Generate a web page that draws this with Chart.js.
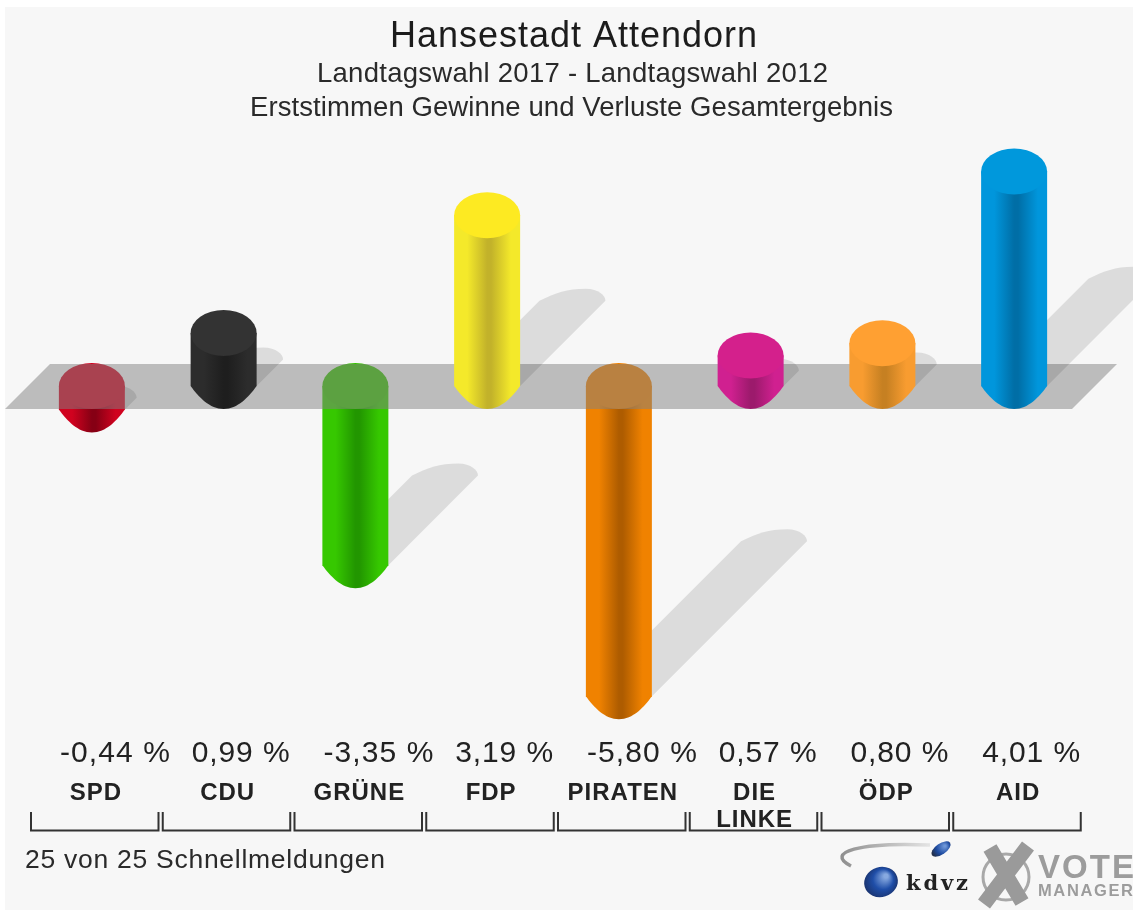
<!DOCTYPE html>
<html>
<head>
<meta charset="utf-8">
<title>Hansestadt Attendorn</title>
<script src="https://cdn.jsdelivr.net/npm/chart.js@4/dist/chart.umd.min.js"></script>
<style>html,body{margin:0;padding:0;background:#fff}canvas{display:block;filter:blur(0.7px)}</style>
</head>
<body>
<canvas id="c" width="1133" height="911"></canvas>
<script>
const parties = ['SPD','CDU','GRÜNE','FDP','PIRATEN',['DIE','LINKE'],'ÖDP','AID'];
const changes = [-0.44, 0.99, -3.35, 3.19, -5.80, 0.57, 0.80, 4.01];
const bodyColors = ['#d0021f','#2c2c2c','#36c800','#f4e92a','#f08200','#d02090','#f89c30','#0096dc'];
const darkColors = ['#860014','#1e1e1e','#229600','#c2b22a','#ae5c00','#9c1a6c','#c68022','#006ea6'];
const capColors  = ['#d0021f','#333333','#36c000','#fdea22','#f08000','#d4208c','#ffa032','#0098dc'];
const titleText = 'Hansestadt Attendorn';
const subtitleLines = ['Landtagswahl 2017 - Landtagswahl 2012','Erststimmen Gewinne und Verluste Gesamtergebnis'];
const footerText = '25 von 25 Schnellmeldungen';

const FONT = '"Liberation Sans", Arial, sans-serif';
const RY = 23;

function fitText(ctx, str, x, y, font, width, color) {
  ctx.save();
  ctx.font = font; ctx.letterSpacing = '0px'; ctx.textAlign = 'left'; ctx.textBaseline = 'alphabetic';
  ctx.fillStyle = color || '#222';
  const w = ctx.measureText(str).width;
  const sp = width ? (width - w) / Math.max(1, str.length - 1) : 0;
  ctx.letterSpacing = sp + 'px';
  ctx.fillText(str, x, y);
  ctx.restore();
}
function sideGrad(ctx, x, r, body, dark) {
  const g = ctx.createLinearGradient(x - r, 0, x + r, 0);
  g.addColorStop(0, body); g.addColorStop(0.2, body); g.addColorStop(0.5, dark);
  g.addColorStop(0.56, dark); g.addColorStop(0.86, body); g.addColorStop(1, body);
  return g;
}
function drawCylinder(ctx, el, i) {
  const x = el.x, r = el.width / 2, k = r / 33;
  const top = Math.min(el.y, el.base), bottom = Math.max(el.y, el.base);
  ctx.beginPath();
  ctx.moveTo(x - r, top);
  ctx.lineTo(x - r, bottom);
  ctx.bezierCurveTo(x - 25 * k, bottom + 11, x - 14 * k, bottom + RY, x, bottom + RY);
  ctx.bezierCurveTo(x + 14 * k, bottom + RY, x + 25 * k, bottom + 11, x + r, bottom);
  ctx.lineTo(x + r, top);
  ctx.closePath();
  ctx.fillStyle = sideGrad(ctx, x, r, bodyColors[i], darkColors[i]);
  ctx.fill();
  ctx.beginPath();
  ctx.ellipse(x, top, r, RY, 0, 0, Math.PI * 2);
  ctx.fillStyle = capColors[i];
  ctx.fill();
}
function shadowPath(ctx, el) {
  const x = el.x, r = el.width / 2, len = Math.abs(el.base - el.y);
  const yStart = Math.max(el.y, el.base);
  const tx = x + len / 2, ty = yStart - len / 2;
  ctx.beginPath();
  ctx.moveTo(x - r, yStart);
  ctx.lineTo(tx - r, ty);
  ctx.bezierCurveTo(tx - r * 0.5, ty - 8, tx - 6, ty - 12, tx + r * 0.4, ty - 12);
  ctx.bezierCurveTo(tx + r * 0.8, ty - 12, tx + r, ty - 5, tx + r, ty);
  ctx.lineTo(x + r, yStart);
  ctx.closePath();
}
function drawLogos(ctx) {
  ctx.save();
  const sg = ctx.createLinearGradient(836, 0, 930, 0);
  sg.addColorStop(0, '#8a8a8a'); sg.addColorStop(1, '#e4e4e4');
  ctx.strokeStyle = sg; ctx.lineWidth = 3.5; ctx.beginPath();
  ctx.moveTo(851, 866);
  ctx.bezierCurveTo(824, 852, 860, 842, 930, 845);
  ctx.stroke();
  let bg = ctx.createRadialGradient(945, 846, 1, 942, 848, 11);
  bg.addColorStop(0, '#6d96d8'); bg.addColorStop(0.6, '#1d4aa0'); bg.addColorStop(1, '#23304d');
  ctx.fillStyle = bg; ctx.beginPath(); ctx.ellipse(941, 849, 11, 5.5, -0.6, 0, Math.PI * 2); ctx.fill();
  let gs = ctx.createRadialGradient(866, 895, 2, 866, 895, 20);
  gs.addColorStop(0, '#222'); gs.addColorStop(1, 'rgba(60,60,60,0)');
  ctx.fillStyle = gs; ctx.save(); ctx.translate(866, 895); ctx.rotate(-0.3); ctx.scale(1.1, 0.55);
  ctx.beginPath(); ctx.arc(0, 0, 20, 0, Math.PI * 2); ctx.fill(); ctx.restore();
  bg = ctx.createRadialGradient(886, 876, 2, 881, 882, 17);
  bg.addColorStop(0, '#87a9e0'); bg.addColorStop(0.55, '#1f4ea8'); bg.addColorStop(1, '#1a3470');
  ctx.fillStyle = bg; ctx.beginPath(); ctx.ellipse(881, 882, 17, 15, -0.3, 0, Math.PI * 2); ctx.fill();
  fitText(ctx, 'kdvz', 906, 890, 'bold 21px "DejaVu Serif", serif', 62, '#222');
  ctx.strokeStyle = '#a8a8a8'; ctx.lineWidth = 3; ctx.beginPath(); ctx.arc(1006, 877, 23, 0, Math.PI * 2); ctx.stroke();
  ctx.strokeStyle = '#9a9a9a'; ctx.lineWidth = 15; ctx.beginPath();
  ctx.moveTo(990, 848); ctx.lineTo(1022, 902); ctx.moveTo(1028, 846); ctx.lineTo(984, 904); ctx.stroke();
  fitText(ctx, 'VOTE', 1038, 878, 'bold 33px ' + FONT, 96, '#9c9c9c');
  fitText(ctx, 'MANAGER', 1038, 896, 'bold 16.5px ' + FONT, 95, '#9c9c9c');
  ctx.restore();
}

const cylinderPlugin = {
  id: 'cylinders',
  beforeDraw(chart) {
    const ctx = chart.ctx;
    ctx.save();
    ctx.fillStyle = '#ffffff'; ctx.fillRect(0, 0, 1133, 911);
    ctx.fillStyle = '#f7f7f7'; ctx.fillRect(5, 7, 1128, 903);
    ctx.restore();
    ctx.letterSpacing = '1px';
  },
  beforeDatasetDraw(chart) {
    const ctx = chart.ctx, els = chart.getDatasetMeta(0).data, y = chart.scales.y;
    const zero = y.getPixelForValue(0);
    ctx.save();
    els.forEach((el, i) => { if (changes[i] < 0) drawCylinder(ctx, el, i); });
    ctx.beginPath();
    ctx.moveTo(50, zero - RY + 1); ctx.lineTo(1117, zero - RY + 1);
    ctx.lineTo(1072, zero + RY); ctx.lineTo(5, zero + RY); ctx.closePath();
    ctx.fillStyle = 'rgba(130,130,130,0.5)'; ctx.fill();
    els.forEach((el, i) => {
      ctx.save();
      if (changes[i] < 0) { ctx.beginPath(); ctx.rect(el.x + el.width / 2, 0, 1133, 911); ctx.clip(); }
      shadowPath(ctx, el);
      ctx.fillStyle = 'rgba(0,0,0,0.105)'; ctx.fill();
      ctx.restore();
    });
    els.forEach((el, i) => { if (changes[i] >= 0) drawCylinder(ctx, el, i); });
    ctx.restore();
    return false;
  },
  afterDraw(chart) {
    const ctx = chart.ctx, xs = chart.scales.x, els = chart.getDatasetMeta(0).data;
    fitText(ctx, titleText, 390, 47, '36px ' + FONT, 367, '#1c1c1c');
    fitText(ctx, subtitleLines[0], 317, 82, '27.5px ' + FONT, 511, '#2a2a2a');
    fitText(ctx, subtitleLines[1], 250, 116, '27.5px ' + FONT, 643, '#2a2a2a');
    changes.forEach((v, i) => {
      const s = v.toFixed(2).replace('.', ',') + ' %';
      fitText(ctx, s, els[i].x - 32, 762, '30px ' + FONT, v < 0 ? 110 : 98, '#222');
    });
    ctx.save();
    ctx.letterSpacing = '0px';
    ctx.strokeStyle = '#333'; ctx.lineWidth = 2;
    const step = xs.getPixelForValue(1) - xs.getPixelForValue(0);
    changes.forEach((v, i) => {
      const l = xs.getPixelForValue(i) - step / 2;
      ctx.beginPath();
      ctx.moveTo(l + 5, 812); ctx.lineTo(l + 5, 830.5); ctx.lineTo(l + 132.5, 830.5); ctx.lineTo(l + 132.5, 812);
      ctx.stroke();
    });
    ctx.restore();
    fitText(ctx, footerText, 25, 868, '26.5px ' + FONT, 360, '#2a2a2a');
    drawLogos(ctx);
  }
};

new Chart(document.getElementById('c'), {
  type: 'bar',
  data: {
    labels: parties,
    datasets: [{ label: 'Gewinne und Verluste', data: changes, backgroundColor: bodyColors, barThickness: 66 }]
  },
  options: {
    responsive: false,
    animation: false,
    layout: { padding: { top: 145.25, left: 26, right: 53, bottom: 0 } },
    plugins: { legend: { display: false }, tooltip: { enabled: false }, title: { display: false } },
    scales: {
      y: { display: false, min: -6.5, max: 4.5 },
      x: {
        afterFit(scale) { scale.height = 177.25; },
        border: { display: false },
        grid: { display: false, drawTicks: false },
        ticks: {
          autoSkip: false, maxRotation: 0, padding: 46, labelOffset: 4, color: '#222',
          font: { family: FONT, size: 24, weight: 'bold', lineHeight: 1.12 }
        }
      }
    }
  },
  plugins: [cylinderPlugin]
});
</script>
</body>
</html>
